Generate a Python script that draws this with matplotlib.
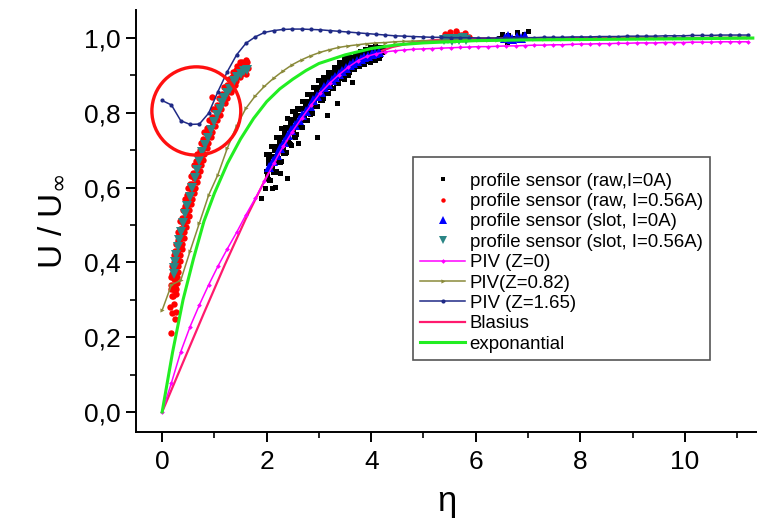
import numpy as np
import matplotlib
matplotlib.use("Agg")
import matplotlib.pyplot as plt
from matplotlib.patches import Ellipse
from matplotlib.ticker import MultipleLocator, FuncFormatter

plt.rcParams['font.family'] = ['Liberation Sans', 'DejaVu Sans']

# ---------------- data ----------------
piv_eta = [0.0, 0.178, 0.356, 0.534, 0.712, 0.89, 1.068, 1.246, 1.424, 1.602, 1.78, 1.958,
           2.136, 2.314, 2.492, 2.67, 2.848, 3.026, 3.204, 3.382, 3.56, 3.738, 3.916, 4.094,
           4.272, 4.45, 4.628, 4.806, 4.984, 5.162, 5.34, 5.518, 5.696, 5.874, 6.052, 6.23,
           6.408, 6.586, 6.764, 6.942, 7.12, 7.298, 7.476, 7.654, 7.832, 8.01, 8.188, 8.366,
           8.544, 8.722, 8.9, 9.078, 9.256, 9.434, 9.612, 9.79, 9.968, 10.146, 10.324, 10.502,
           10.68, 10.858, 11.036, 11.214]

piv_z0 = [0.0, 0.078, 0.161, 0.228, 0.286, 0.34, 0.39, 0.436, 0.48, 0.527, 0.571, 0.617,
          0.665, 0.71, 0.75, 0.786, 0.82, 0.853, 0.879, 0.902, 0.922, 0.939, 0.951, 0.958,
          0.963, 0.966, 0.968, 0.97, 0.971, 0.972, 0.973, 0.974, 0.975, 0.976, 0.977, 0.977,
          0.978, 0.979, 0.979, 0.98, 0.981, 0.981, 0.982, 0.982, 0.983, 0.984, 0.984, 0.985,
          0.985, 0.986, 0.986, 0.987, 0.987, 0.987, 0.988, 0.988, 0.988, 0.989, 0.989, 0.989,
          0.99, 0.99, 0.99, 0.99]

piv_z082 = [0.272, 0.34, 0.352, 0.43, 0.505, 0.58, 0.635, 0.705, 0.765, 0.812, 0.845, 0.871,
            0.893, 0.912, 0.929, 0.942, 0.953, 0.962, 0.969, 0.975, 0.979, 0.982, 0.985, 0.987,
            0.988, 0.99, 0.991, 0.992, 0.993, 0.993, 0.994, 0.994, 0.995, 0.995, 0.995, 0.996,
            0.996, 0.996, 0.997, 0.997, 0.997, 0.997, 0.998, 0.998, 0.998, 0.998, 0.999, 0.999,
            0.999, 0.999, 1.0, 1.0, 1.0, 1.0, 1.0, 1.001, 1.001, 1.001, 1.001, 1.002,
            1.002, 1.002, 1.002, 1.003]

piv_z165 = [0.833, 0.821, 0.779, 0.769, 0.77, 0.799, 0.857, 0.91, 0.955, 0.986, 1.003, 1.015,
            1.02, 1.023, 1.024, 1.024, 1.023, 1.022, 1.02, 1.018, 1.016, 1.014, 1.012, 1.01,
            1.008, 1.006, 1.005, 1.004, 1.003, 1.002, 1.002, 1.001, 1.001, 1.001, 1.0, 1.0,
            1.0, 1.0, 1.001, 1.001, 1.001, 1.002, 1.002, 1.002, 1.003, 1.003, 1.003, 1.004,
            1.004, 1.004, 1.005, 1.005, 1.005, 1.005, 1.006, 1.006, 1.006, 1.007, 1.007, 1.007,
            1.008, 1.008, 1.008, 1.008]

blasius_eta = [0.0, 0.4, 0.8, 1.2, 1.6, 2.0, 2.4, 2.8, 3.2, 3.6, 4.0, 4.4, 4.8, 5.2, 5.6,
               6.0, 7.0, 8.0, 9.0, 10.0, 11.3]
blasius_u = [0.0, 0.1328, 0.2647, 0.3938, 0.5168, 0.6298, 0.729, 0.8115, 0.8761, 0.9233,
             0.9555, 0.9759, 0.9878, 0.9943, 0.9975, 0.999, 0.9999, 1.0, 1.0, 1.0, 1.0]

expo_eta = [0.0, 0.2, 0.4, 0.6, 0.8, 1.0, 1.25, 1.5, 1.75, 2.0, 2.25, 2.5, 2.75, 3.0, 3.5,
            4.0, 4.5, 5.0, 6.0, 7.0, 8.0, 9.0, 10.0, 11.3]
expo_u = [0.0, 0.16, 0.3, 0.41, 0.51, 0.585, 0.665, 0.73, 0.785, 0.83, 0.864, 0.89, 0.913,
          0.932, 0.955, 0.972, 0.982, 0.987, 0.993, 0.995, 0.996, 0.997, 0.998, 1.0]

raw_0A = [
    (1.98, 0.69), (2.03, 0.665), (1.99, 0.645), (2.02, 0.623), (1.97, 0.60),
    (2.08, 0.71), (2.13, 0.685), (2.09, 0.665), (2.12, 0.643), (2.07, 0.62),
    (2.18, 0.735), (2.23, 0.71), (2.19, 0.69), (2.22, 0.668), (2.17, 0.645),
    (2.28, 0.76), (2.33, 0.735), (2.29, 0.715), (2.32, 0.693), (2.27, 0.67),
    (2.38, 0.785), (2.43, 0.76), (2.39, 0.74), (2.42, 0.718), (2.37, 0.695),
    (2.48, 0.805), (2.53, 0.78), (2.49, 0.76), (2.52, 0.738), (2.47, 0.715),
    (2.58, 0.813), (2.63, 0.794), (2.59, 0.778), (2.62, 0.761), (2.57, 0.743),
    (2.68, 0.832), (2.73, 0.813), (2.69, 0.797), (2.72, 0.78), (2.67, 0.762),
    (2.78, 0.85), (2.83, 0.831), (2.79, 0.815), (2.82, 0.798), (2.77, 0.78),
    (2.88, 0.87), (2.93, 0.851), (2.89, 0.835), (2.92, 0.818), (2.87, 0.80),
    (2.98, 0.887), (3.03, 0.868), (2.99, 0.852), (3.02, 0.835), (2.97, 0.817),
    (3.08, 0.896), (3.13, 0.881), (3.09, 0.868), (3.12, 0.854), (3.07, 0.84),
    (3.18, 0.91), (3.23, 0.895), (3.19, 0.882), (3.22, 0.868), (3.17, 0.854),
    (3.28, 0.923), (3.33, 0.908), (3.29, 0.895), (3.32, 0.881), (3.27, 0.867),
    (3.38, 0.936), (3.43, 0.921), (3.39, 0.908), (3.42, 0.894), (3.37, 0.88),
    (3.48, 0.946), (3.53, 0.931), (3.49, 0.918), (3.52, 0.904), (3.47, 0.89),
    (3.58, 0.948), (3.63, 0.937), (3.59, 0.928), (3.62, 0.918), (3.57, 0.908),
    (3.68, 0.957), (3.73, 0.946), (3.69, 0.937), (3.72, 0.927), (3.67, 0.917),
    (3.78, 0.965), (3.83, 0.954), (3.79, 0.945), (3.82, 0.935), (3.77, 0.925),
    (3.88, 0.971), (3.93, 0.96), (3.89, 0.951), (3.92, 0.941), (3.87, 0.931),
    (3.98, 0.976), (4.03, 0.965), (3.99, 0.956), (4.02, 0.946), (3.97, 0.936),
    (4.08, 0.978), (4.13, 0.969), (4.09, 0.96), (4.12, 0.95), (4.07, 0.942),
    (4.18, 0.975), (4.22, 0.968), (4.2, 0.962), (4.16, 0.955),
    (2.03, 0.68), (2.14, 0.70), (2.24, 0.725), (2.34, 0.75), (2.44, 0.77), (2.54, 0.795),
    (2.64, 0.81), (2.74, 0.827), (2.84, 0.846), (2.94, 0.863), (3.04, 0.88), (3.14, 0.893),
    (3.24, 0.906), (3.34, 0.918), (3.44, 0.93), (3.54, 0.94), (3.64, 0.948), (3.74, 0.955),
    (2.01, 0.635), (2.11, 0.655), (2.21, 0.678), (2.31, 0.703), (2.41, 0.728), (2.51, 0.748),
    (2.61, 0.77), (2.71, 0.788), (2.81, 0.806), (2.91, 0.826), (3.01, 0.843), (3.11, 0.861),
    (3.21, 0.875), (3.31, 0.888), (3.41, 0.9), (3.51, 0.911), (3.61, 0.922), (3.71, 0.932),
    (2.05, 0.689), (2.15, 0.711), (2.25, 0.736), (2.35, 0.761), (2.45, 0.784), (2.55, 0.803),
    (2.65, 0.813), (2.75, 0.832), (2.85, 0.851), (2.95, 0.869), (3.05, 0.886), (3.15, 0.896),
    (3.25, 0.909), (3.35, 0.922), (3.45, 0.934), (3.55, 0.944), (3.65, 0.947), (3.75, 0.956),
    (3.85, 0.963), (3.95, 0.968), (4.05, 0.973), (4.15, 0.976),
    (2.05, 0.621), (2.15, 0.643), (2.25, 0.668), (2.35, 0.693), (2.45, 0.716), (2.55, 0.735),
    (2.65, 0.761), (2.75, 0.78), (2.85, 0.799), (2.95, 0.817), (3.05, 0.834), (3.15, 0.854),
    (3.25, 0.867), (3.35, 0.88), (3.45, 0.892), (3.55, 0.902), (3.65, 0.917), (3.75, 0.926),
    (3.85, 0.933), (3.95, 0.938), (4.05, 0.943), (4.15, 0.946),
    (1.9, 0.571), (2.1, 0.598), (2.16, 0.602), (2.38, 0.625), (2.96, 0.736),
    (3.15, 0.794), (3.34, 0.825), (3.63, 0.883), (2.25, 0.64), (2.6, 0.72),
    (6.45, 1.0), (6.5, 1.012), (6.56, 0.995), (6.62, 1.008), (6.7, 1.0), (6.78, 1.015),
    (6.85, 1.003), (6.92, 1.01), (7.0, 1.018), (6.6, 0.99), (6.88, 0.995),
]

raw_056A = [
    (0.166, 0.212), (0.15, 0.28), (0.185, 0.265), (0.24, 0.25), (0.27, 0.268), (0.22, 0.29), (0.2, 0.31),
    (0.16, 0.33), (0.19, 0.31), (0.22, 0.325), (0.245, 0.335), (0.27, 0.315),
    (0.175, 0.36), (0.205, 0.34), (0.235, 0.355), (0.26, 0.362), (0.285, 0.345),
    (0.19, 0.39), (0.22, 0.37), (0.255, 0.385), (0.28, 0.392), (0.31, 0.375),
    (0.22, 0.42), (0.25, 0.40), (0.285, 0.415), (0.31, 0.422), (0.34, 0.405),
    (0.26, 0.45), (0.29, 0.43), (0.325, 0.445), (0.35, 0.452), (0.38, 0.435),
    (0.30, 0.48), (0.33, 0.46), (0.365, 0.475), (0.39, 0.482), (0.42, 0.465),
    (0.34, 0.51), (0.37, 0.49), (0.405, 0.505), (0.43, 0.512), (0.46, 0.495),
    (0.39, 0.54), (0.42, 0.52), (0.455, 0.535), (0.48, 0.542), (0.51, 0.525),
    (0.44, 0.57), (0.47, 0.55), (0.505, 0.565), (0.53, 0.572), (0.56, 0.555),
    (0.49, 0.60), (0.52, 0.58), (0.555, 0.595), (0.58, 0.602), (0.61, 0.585),
    (0.55, 0.63), (0.58, 0.61), (0.615, 0.625), (0.64, 0.632), (0.67, 0.615),
    (0.60, 0.66), (0.63, 0.64), (0.665, 0.655), (0.69, 0.662), (0.72, 0.645),
    (0.67, 0.69), (0.70, 0.67), (0.735, 0.685), (0.76, 0.692), (0.79, 0.675),
    (0.74, 0.72), (0.77, 0.70), (0.805, 0.715), (0.83, 0.722), (0.86, 0.705),
    (0.81, 0.75), (0.84, 0.73), (0.875, 0.745), (0.90, 0.752), (0.93, 0.735),
    (0.89, 0.78), (0.92, 0.76), (0.955, 0.775), (0.98, 0.782), (1.01, 0.765),
    (0.98, 0.81), (1.01, 0.79), (1.045, 0.805), (1.07, 0.812), (1.10, 0.795),
    (1.08, 0.84), (1.11, 0.82), (1.145, 0.835), (1.17, 0.842), (1.20, 0.825),
    (1.19, 0.87), (1.22, 0.85), (1.255, 0.865), (1.28, 0.872), (1.31, 0.855),
    (1.27, 0.89), (1.30, 0.87), (1.335, 0.885), (1.36, 0.892), (1.39, 0.875),
    (1.36, 0.91), (1.39, 0.89), (1.425, 0.905), (1.45, 0.912), (1.48, 0.895),
    (1.44, 0.925), (1.47, 0.905), (1.505, 0.92), (1.53, 0.93), (1.56, 0.91),
    (1.52, 0.935), (1.55, 0.915), (1.585, 0.93), (1.61, 0.94), (1.64, 0.92),
    (0.177, 0.34), (0.267, 0.33), (0.195, 0.37), (0.285, 0.36), (0.22, 0.40), (0.31, 0.39),
    (0.255, 0.43), (0.345, 0.42), (0.295, 0.46), (0.385, 0.45), (0.335, 0.49), (0.425, 0.48),
    (0.38, 0.52), (0.47, 0.51), (0.43, 0.55), (0.52, 0.54), (0.48, 0.58), (0.57, 0.57),
    (0.535, 0.61), (0.625, 0.60), (0.59, 0.64), (0.68, 0.63), (0.65, 0.67), (0.74, 0.66),
    (0.72, 0.70), (0.81, 0.69), (0.79, 0.73), (0.88, 0.72), (0.865, 0.76), (0.955, 0.75),
    (0.95, 0.79), (1.04, 0.78), (1.045, 0.82), (1.135, 0.81), (1.15, 0.85), (1.24, 0.84),
    (1.245, 0.875), (1.335, 0.865), (1.33, 0.895), (1.42, 0.885), (1.415, 0.915), (1.505, 0.905),
    (1.495, 0.935), (1.585, 0.925), (1.63, 0.935), (1.6, 0.905),
    (0.95, 0.843),
    (5.42, 1.01), (5.5, 1.015), (5.58, 1.005), (5.65, 1.012), (5.72, 1.008), (5.8, 1.013),
    (5.88, 1.004), (5.46, 0.998), (5.62, 1.018), (5.76, 1.0),
]

slot_0A_eta = [2.05, 2.12, 2.19, 2.26, 2.33, 2.40, 2.47, 2.54, 2.61, 2.68, 2.75, 2.82, 2.89,
               2.96, 3.03, 3.10, 3.17, 3.24, 3.31, 3.38, 3.45, 3.52, 3.59, 3.66, 3.73, 3.80,
               3.87, 3.94, 4.01, 4.08, 4.15, 6.55, 6.62, 6.7, 6.78, 6.86, 6.94]
slot_0A_u = [0.655, 0.67, 0.688, 0.705, 0.722, 0.74, 0.754, 0.767, 0.78, 0.793, 0.806, 0.819,
             0.833, 0.845, 0.857, 0.868, 0.878, 0.887, 0.896, 0.905, 0.913, 0.92, 0.927, 0.933,
             0.939, 0.945, 0.949, 0.953, 0.956, 0.959, 0.962, 1.0, 1.005, 0.998, 1.003, 1.0, 1.006]

slot_056A_eta = [0.22, 0.235, 0.25, 0.27, 0.3, 0.33, 0.36, 0.4, 0.44, 0.48, 0.53, 0.57, 0.62,
                 0.66, 0.71, 0.76, 0.82, 0.885, 0.93, 0.99, 1.05, 1.1, 1.14, 1.19, 1.24, 1.29,
                 1.33, 1.38, 1.43, 1.5, 1.56, 1.62, 5.4, 5.47, 5.54, 5.61, 5.68, 5.75, 5.82]
slot_056A_u = [0.37, 0.385, 0.40, 0.42, 0.44, 0.46, 0.48, 0.505, 0.53, 0.55, 0.575, 0.6, 0.625,
               0.647, 0.67, 0.696, 0.715, 0.732, 0.755, 0.775, 0.794, 0.81, 0.825, 0.84, 0.852,
               0.865, 0.874, 0.886, 0.897, 0.905, 0.912, 0.914, 0.995, 0.998, 0.993, 0.997,
               0.995, 1.0, 0.996]

labels = ["profile sensor (raw,I=0A)", "profile sensor (raw, I=0.56A)",
          "profile sensor (slot, I=0A)", "profile sensor (slot, I=0.56A)",
          "PIV (Z=0)", "PIV(Z=0.82)", "PIV (Z=1.65)", "Blasius", "exponantial"]

# ---------------- figure ----------------
fig = plt.figure(figsize=(7.57, 5.22), dpi=100)
ax = fig.add_axes([136/757, 90/522, 621/757, 422/522])

rx, ry = zip(*raw_0A)
h1, = ax.plot(rx, ry, ls='none', marker='s', ms=3.6, color='black', mew=0, zorder=2, label=labels[0])
rx2, ry2 = zip(*raw_056A)
h2, = ax.plot(rx2, ry2, ls='none', marker='o', ms=4.6, color='#ff0000', mew=0, zorder=2, label=labels[1])
h8, = ax.plot(blasius_eta, blasius_u, color='#ff1a6e', lw=1.6, zorder=2.5, label=labels[7])
h3, = ax.plot(slot_0A_eta, slot_0A_u, ls='none', marker='^', ms=6.5, color='#0000ff', mew=0, zorder=3, label=labels[2])
h4, = ax.plot(slot_056A_eta, slot_056A_u, ls='none', marker='v', ms=6.5, color='#2b8585', mew=0, zorder=3, label=labels[3])

h5, = ax.plot(piv_eta, piv_z0, color='#ff00ff', lw=1.1, marker='D', ms=2.4, mew=0, zorder=4, label=labels[4])
h6, = ax.plot(piv_eta, piv_z082, color='#8a8a3a', lw=1.1, marker='>', ms=3, mew=0, zorder=4, label=labels[5])
h7, = ax.plot(piv_eta, piv_z165, color='#1f2a86', lw=1.1, marker='o', ms=3, mew=0, zorder=4, label=labels[6])
h9, = ax.plot(expo_eta, expo_u, color='#22ee22', lw=2.2, zorder=6, label=labels[8])

circ = Ellipse((0.654, 0.805), 1.70, 0.236, fill=False, edgecolor='#ff1010', lw=2.4, zorder=7)
ax.add_patch(circ)

ax.set_xlim(-0.5, 11.38)
ax.set_ylim(-0.0535, 1.075)

ax.spines['top'].set_visible(False)
ax.spines['right'].set_visible(False)
for s in ('left', 'bottom'):
    ax.spines[s].set_linewidth(1.4)

ax.xaxis.set_major_locator(MultipleLocator(2))
ax.xaxis.set_minor_locator(MultipleLocator(1))
ax.yaxis.set_major_locator(MultipleLocator(0.2))
ax.yaxis.set_minor_locator(MultipleLocator(0.1))
ax.yaxis.set_major_formatter(FuncFormatter(lambda v, p: f"{v:.1f}".replace('.', ',')))
ax.xaxis.set_major_formatter(FuncFormatter(lambda v, p: f"{v:.0f}"))

ax.tick_params(which='major', direction='out', length=7, width=1.4, labelsize=19)
ax.tick_params(which='minor', direction='out', length=4, width=1.2)
ax.tick_params(axis='y', which='major', pad=4)
ax.tick_params(axis='x', which='major', pad=6)

ax.set_xlabel('η', fontsize=25, labelpad=8)
ax.set_ylabel('U / U$_\\infty$', fontsize=24, labelpad=12)

leg = ax.legend(handles=[h1, h2, h3, h4, h5, h6, h7, h8, h9],
                loc='upper left', bbox_to_anchor=(0.446, 0.652),
                fontsize=13.4, frameon=True, fancybox=False, shadow=False,
                edgecolor='#555555', framealpha=1, labelspacing=0.18,
                handlelength=2.4, handletextpad=0.25, borderpad=0.4,
                borderaxespad=0, markerscale=1.0, title=' ', title_fontsize=4)
leg.get_frame().set_linewidth(1.2)
for lh, ms in zip(leg.legend_handles[:4], [2.6, 3.2, 5.5, 5.5]):
    lh.set_markersize(ms)

fig.savefig('out.png', dpi=100)
